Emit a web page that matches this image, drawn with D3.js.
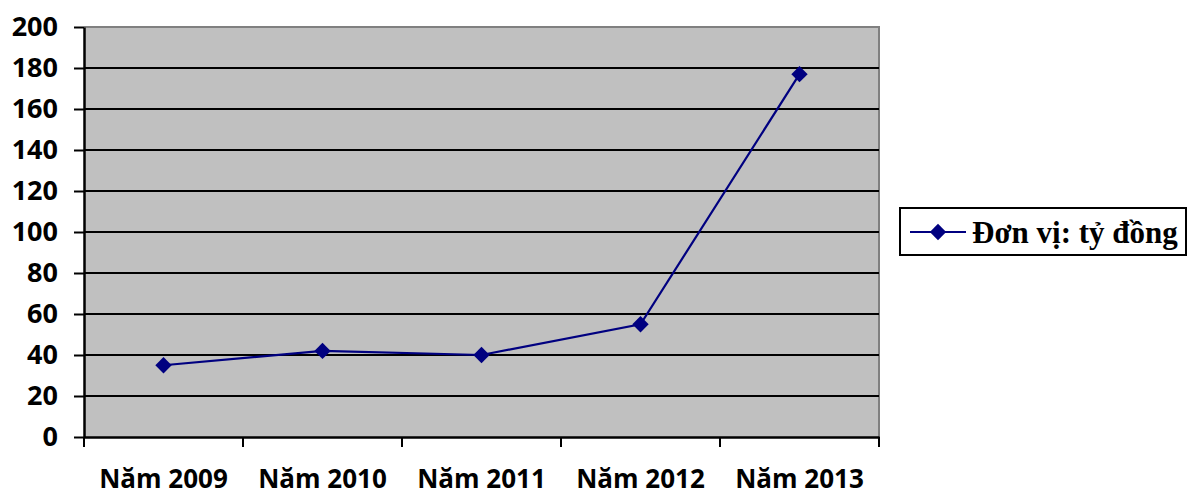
<!DOCTYPE html>
<html><head><meta charset="utf-8">
<script src="https://cdn.jsdelivr.net/npm/d3@7"></script>
<style>body{margin:0;background:#fff}svg{display:block}</style>
</head><body>
<svg id="c" width="1192" height="497"></svg>
<script>
const categories = ["Năm 2009","Năm 2010","Năm 2011","Năm 2012","Năm 2013"];
const values = [35, 42, 40, 55, 177];
const yTicks = [0,20,40,60,80,100,120,140,160,180,200];
const seriesName = "Đơn vị: tỷ đồng";

const svg = d3.select("#c");
const L = 84, R = 879, T = 27, B = 437;
const x = d3.scaleBand().domain(categories).range([L, R]);
const y = d3.scaleLinear().domain([0, 200]).range([B, T]);
const sans = "'Open Sans', sans-serif";

svg.append("rect").attr("x", L).attr("y", T).attr("width", R - L).attr("height", B - T)
  .attr("fill", "#c0c0c0").attr("stroke", "none");
svg.append("path").attr("d", `M${L},${T}H${R}V${B}`).attr("fill","none").attr("stroke","#808080").attr("stroke-width",2);

// gridlines
svg.append("g").selectAll("line").data(yTicks.filter(d => d > 0 && d < 200)).join("line")
  .attr("x1", L).attr("x2", R).attr("y1", d => y(d)).attr("y2", d => y(d))
  .attr("stroke", "#000").attr("stroke-width", 2);

// y axis
const ya = svg.append("g").attr("transform", `translate(${L},0)`)
  .call(d3.axisLeft(y).tickValues(yTicks).tickSize(10).tickPadding(16).tickSizeOuter(0));
ya.select(".domain").attr("stroke", "#000").attr("stroke-width", 2.5);
ya.selectAll(".tick line").attr("stroke", "#000").attr("stroke-width", 2);
ya.selectAll("text").attr("font-family", sans).attr("font-weight", "bold").attr("font-size", 27).attr("fill", "#000");

// x axis
const xa = svg.append("g").attr("transform", `translate(0,${B})`)
  .call(d3.axisBottom(x).tickSize(0).tickSizeOuter(0));
xa.select(".domain").attr("stroke", "#000").attr("stroke-width", 2.5);
xa.selectAll("text").attr("y", 51).attr("dy", null)
  .attr("font-family", sans).attr("font-weight", "bold").attr("font-size", 26).attr("fill", "#000");
// band boundary ticks
const bounds = categories.map(c => x(c)).concat([R]);
svg.append("g").selectAll("line").data(bounds).join("line")
  .attr("x1", d => d).attr("x2", d => d).attr("y1", B).attr("y2", B + 10)
  .attr("stroke", "#000").attr("stroke-width", 2);

// line
const cx = (c) => x(c) + x.bandwidth() / 2;
const line = d3.line().x((d, i) => cx(categories[i])).y(d => y(d));
svg.append("path").datum(values).attr("d", line).attr("fill", "none")
  .attr("stroke", "#000080").attr("stroke-width", 2.2);
const diamond = d3.symbol().type(d3.symbolDiamond2).size(170);
svg.append("g").selectAll("path").data(values).join("path")
  .attr("transform", (d, i) => `translate(${cx(categories[i])},${y(d)})`)
  .attr("d", diamond).attr("fill", "#000080");

// legend
const lg = svg.append("g");
lg.append("rect").attr("x", 900).attr("y", 208).attr("width", 286).attr("height", 47)
  .attr("fill", "#fff").attr("stroke", "#000").attr("stroke-width", 2);
lg.append("line").attr("x1", 910).attr("x2", 966).attr("y1", 232).attr("y2", 232)
  .attr("stroke", "#000080").attr("stroke-width", 2.2);
lg.append("path").attr("transform", "translate(938,232)").attr("d", diamond).attr("fill", "#000080");
lg.append("text").attr("x", 972).attr("y", 243).text(seriesName)
  .attr("font-family", "'Liberation Serif', 'Times New Roman', serif").attr("font-weight", "bold")
  .attr("font-size", 31).attr("fill", "#000");
</script>
</body></html>
